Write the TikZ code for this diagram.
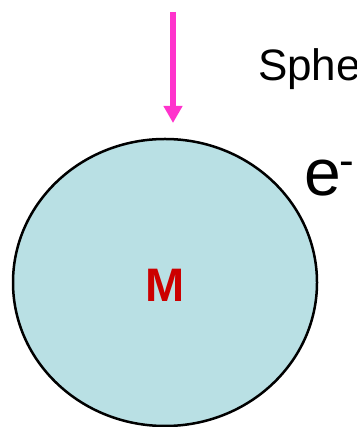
\documentclass[tikz,border=0pt]{standalone}
\usepackage{fontspec}
\setmainfont{Liberation Sans}
\usetikzlibrary{arrows.meta,shapes.geometric}
\definecolor{ballfill}{RGB}{185,224,228}
\definecolor{arrowpink}{RGB}{255,51,204}
\definecolor{mred}{RGB}{204,0,0}
\tikzset{
  ballstyle/.style={ellipse, draw=black, line width=2.5pt, fill=ballfill,
    minimum width=304pt, minimum height=287pt, inner sep=0pt, outer sep=0pt},
  pinkarrow/.style={draw=arrowpink, line width=6pt,
    -{Triangle[width=18pt,length=17pt]}},
  labeltext/.style={inner sep=0pt, outer sep=0pt, text=black},
}
\begin{document}
\begin{tikzpicture}[x=1pt,y=1pt]
\useasboundingbox (0,0) rectangle (356,427);
\clip (0,0) rectangle (356,427);
\node[ballstyle] (ball) at (165,144.5) {};
\node[inner sep=0pt, text=mred, font=\fontsize{47}{47}\selectfont\bfseries] (m) at (165,142) {M};
\coordinate (arrowtop) at (173,415);
\coordinate (arrowtip) at (173,304);
\draw[pinkarrow] (arrowtop) -- (arrowtip);
\node[labeltext, anchor=base west, font=\fontsize{44}{44}\selectfont] (sphe) at (258,346) {Sphe};
\node[labeltext, anchor=base west, font=\fontsize{66}{66}\selectfont] (elec) at (304,231) {e\kern-1pt\raisebox{20pt}{\fontsize{44}{44}\selectfont -}};
\end{tikzpicture}
\end{document}
